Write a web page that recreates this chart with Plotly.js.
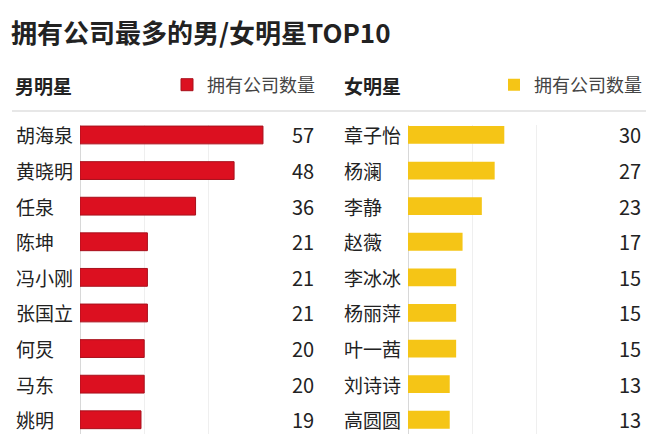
<!DOCTYPE html>
<html>
<head>
<meta charset="utf-8">
<script src="https://cdn.plot.ly/plotly-3.0.1.min.js"></script>
<style>html,body{margin:0;padding:0;background:#fff}#chart{width:660px;height:434px}</style>
</head>
<body>
<div id="chart"></div>
<script>
const chartTitle = "拥有公司最多的男/女明星TOP10";
const maleHeader = "男明星";
const femaleHeader = "女明星";
const seriesName = "拥有公司数量";
const maleNames = ["胡海泉","黄晓明","任泉","陈坤","冯小刚","张国立","何炅","马东","姚明"];
const maleValues = [57,48,36,21,21,21,20,20,19];
const femaleNames = ["章子怡","杨澜","李静","赵薇","李冰冰","杨丽萍","叶一茜","刘诗诗","高圆圆"];
const femaleValues = [30,27,23,17,15,15,15,13,13];

const W = 660, H = 434;
const FONT = '"Noto Sans CJK SC", "Noto Sans", sans-serif';
const RED = '#dc1020';
const YELLOW = '#f5c516';
const TXT = '#222222';

const traces = [
  {type:'bar', orientation:'h', x:maleValues, y:maleNames, xaxis:'x', yaxis:'y',
   name:seriesName, legend:'legend', width:0.5,
   marker:{color:RED, line:{color:'#a8101c', width:1}}, hoverinfo:'x+y'},
  {type:'bar', orientation:'h', x:femaleValues, y:femaleNames, xaxis:'x2', yaxis:'y2',
   name:seriesName, legend:'legend2', width:0.5,
   marker:{color:YELLOW, line:{color:'#f0b800', width:0}}, hoverinfo:'x+y'}
];

const annotations = [];
maleNames.forEach((n,i)=>{
  annotations.push({xref:'paper', yref:'y', x:14/W, y:n, text:n, showarrow:false, xanchor:'left',
    font:{family:FONT, size:19, color:TXT}});
  annotations.push({xref:'paper', yref:'y', x:316/W, y:n, text:String(maleValues[i]), showarrow:false, xanchor:'right',
    font:{family:FONT, size:20, color:TXT}});
});
femaleNames.forEach((n,i)=>{
  annotations.push({xref:'paper', yref:'y2', x:342/W, y:n, text:n, showarrow:false, xanchor:'left',
    font:{family:FONT, size:19, color:TXT}});
  annotations.push({xref:'paper', yref:'y2', x:643/W, y:n, text:String(femaleValues[i]), showarrow:false, xanchor:'right',
    font:{family:FONT, size:20, color:TXT}});
});
annotations.push({xref:'paper', yref:'paper', x:13/W, y:1-85/H, text:'<b>'+maleHeader+'</b>', showarrow:false,
  xanchor:'left', yanchor:'middle', font:{family:FONT, size:19, color:TXT}});
annotations.push({xref:'paper', yref:'paper', x:342/W, y:1-85/H, text:'<b>'+femaleHeader+'</b>', showarrow:false,
  xanchor:'left', yanchor:'middle', font:{family:FONT, size:19, color:TXT}});

const yTop = 125;
const yDom = [0, 1 - yTop/H];
const yRange = [8.4, -0.28];

const axisX = (dom) => ({domain:dom, range:[0,60], autorange:false, showticklabels:false, ticks:'',
  showgrid:true, gridcolor:'#efefef', gridwidth:1, dtick:20, zeroline:true, zerolinecolor:'#d8d8d8', zerolinewidth:1,
  showline:false, fixedrange:true});
const axisY = (anchor) => ({domain:yDom, range:yRange, autorange:false, type:'category', showticklabels:false,
  ticks:'', showgrid:false, zeroline:false, showline:false, anchor:anchor, fixedrange:true});

const layout = {
  width:W, height:H,
  margin:{l:0, r:0, t:0, b:0},
  paper_bgcolor:'#ffffff', plot_bgcolor:'#ffffff',
  title:{text:'<b>'+chartTitle+'</b>', x:11/W, xanchor:'left', xref:'paper', y:1-34/H, yanchor:'middle', yref:'paper',
    font:{family:FONT, size:26, color:TXT}},
  xaxis:axisX([80/W, 272.6/W]),
  yaxis:axisY('x'),
  xaxis2:Object.assign(axisX([408/W, 600.6/W]), {anchor:'y2'}),
  yaxis2:axisY('x2'),
  showlegend:true,
  legend:{x:167/W, y:1-85/H, xanchor:'left', yanchor:'middle', bgcolor:'rgba(0,0,0,0)',
    font:{family:FONT, size:18, color:'#444'}, itemclick:false, itemdoubleclick:false},
  legend2:{x:494/W, y:1-85/H, xanchor:'left', yanchor:'middle', bgcolor:'rgba(0,0,0,0)',
    font:{family:FONT, size:18, color:'#444'}, itemclick:false, itemdoubleclick:false},
  shapes:[{type:'line', xref:'paper', yref:'paper', x0:12/W, x1:646/W, y0:1-111/H, y1:1-111/H,
    line:{color:'#cfcfcf', width:1}}],
  annotations:annotations,
  bargap:0.5
};

Plotly.newPlot('chart', traces, layout, {displayModeBar:false, staticPlot:true});
</script>
</body>
</html>
